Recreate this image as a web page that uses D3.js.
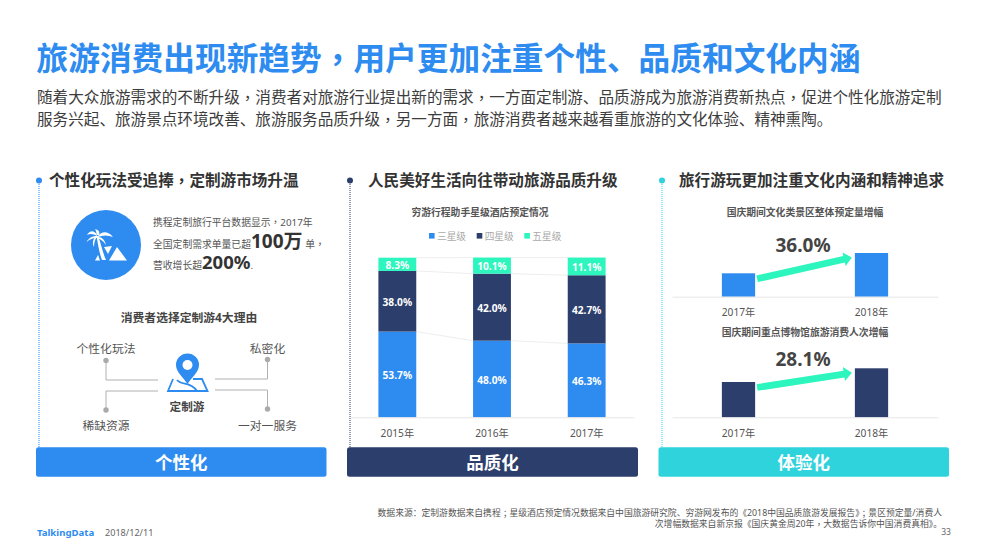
<!DOCTYPE html>
<html>
<head>
<meta charset="utf-8">
<script src="https://d3js.org/d3.v7.min.js"></script>
<style>
  html, body { margin: 0; padding: 0; background: #fff; }
  svg { display: block; }
  text { font-family: "Noto Sans", "Noto Sans CJK SC", sans-serif; }
  .mid { font-family: "Noto Sans CJK TC", sans-serif; }
</style>
</head>
<body>
<svg id="chart" width="989" height="555"></svg>
<script>
const years = ["2015年", "2016年", "2017年"];
const starLevels = ["三星级", "四星级", "五星级"];
const threeStar = [53.7, 48.0, 46.3];
const fourStar = [38.0, 42.0, 42.7];
const fiveStar = [8.3, 10.1, 11.1];

const growthYears = ["2017年", "2018年"];
// no axis in the picture, bar heights are relative and read off the image
const scenicBooking = [23.4, 43.7];
const museumVisitors = [35.3, 49.0];

const blue = "#2e8cf0", navy = "#2c3e6b", mint = "#2cf5bd", teal = "#2fd3dc";
const svg = d3.select("#chart");

function label(x, y, str, size, color, weight, anchor) {
  const t = svg.append("text")
    .attr("x", x).attr("y", y)
    .attr("font-size", size)
    .attr("fill", color)
    .attr("font-weight", weight || "normal")
    .attr("text-anchor", anchor || "start")
    .attr("dominant-baseline", "central");
  // the commas and semicolons sit centred in the reference, TC font does that
  str.split(/([，；])/).forEach((part) => {
    if (!part) return;
    t.append("tspan").attr("class", /[，；]/.test(part) ? "mid" : null).text(part);
  });
  return t;
}

// header
label(36.5, 56.5, "旅游消费出现新趋势，用户更加注重个性、品质和文化内涵", 31.7, blue, "bold");
label(37, 97, "随着大众旅游需求的不断升级，消费者对旅游行业提出新的需求，一方面定制游、品质游成为旅游消费新热点，促进个性化旅游定制", 15.6, "#3c3c3c");
label(37, 119, "服务兴起、旅游景点环境改善、旅游服务品质升级，另一方面，旅游消费者越来越看重旅游的文化体验、精神熏陶。", 15.6, "#3c3c3c");

// three columns: dotted rule, section title, bottom banner
const columns = [
  { x: 36, w: 290.5, dot: 39, color: blue, title: "个性化玩法受追捧，定制游市场升温", tx: 49, tag: "个性化" },
  { x: 347, w: 291, dot: 350, color: navy, title: "人民美好生活向往带动旅游品质升级", tx: 368, tag: "品质化" },
  { x: 658.5, w: 290.5, dot: 662, color: teal, title: "旅行游玩更加注重文化内涵和精神追求", tx: 679, tag: "体验化" }
];
columns.forEach((c) => {
  svg.append("line")
    .attr("x1", c.dot).attr("x2", c.dot).attr("y1", 182).attr("y2", 447)
    .attr("stroke", c.color).attr("stroke-width", 1).attr("stroke-dasharray", "1 1");
  svg.append("circle").attr("cx", c.dot).attr("cy", 180.5).attr("r", 3).attr("fill", c.color);
  label(c.tx, 180, c.title, 15.6, "#333", "bold");
  svg.append("rect")
    .attr("x", c.x).attr("y", 447.3).attr("width", c.w).attr("height", 29.4)
    .attr("rx", 2.5).attr("fill", c.color);
  label(c.x + c.w / 2, 461.5, c.tag, 17.5, "#fff", "bold", "middle");
});

// left column, icon and headline numbers
svg.append("circle").attr("cx", 106).attr("cy", 245).attr("r", 35).attr("fill", blue);
const palm = svg.append("g").attr("fill", "#fff");
palm.append("path").attr("d", "M98 236 C101 243 102 251 106 260 L102 260 C99 252 98 244 96.5 236 Z");
palm.append("path").attr("d", "M97 235 C94 230 90 230 87 235 C90 233 94 234 97 236 Z");
palm.append("path").attr("d", "M97 236 C92 236 89 238 86.500 242 C90 239 94 238 97.500 237.500 Z");
palm.append("path").attr("d", "M97 235 C96 232 96 230 95 229 C99 230 100 232 99 235 Z");
palm.append("path").attr("d", "M98 236 C102 231 108 231 113 237 C108 235 103 235 98 237 Z");
palm.append("path").attr("d", "M98 237 C102 237 105 240 106 245 C103 241 101 239 97 238 Z");
palm.append("path").attr("d", "M97 237 C95 239 94 243 94 247 C92 243 93 239 96 236 Z");
palm.append("path").attr("d", "M109 260.500 L117 247 L127 260.500 Z");
palm.append("path").attr("d", "M95 260.500 L98 255 L100 260.500 Z");
palm.append("path").attr("d", "M104 247 L112 246 L108 254 Z");

const para = svg.append("g").attr("fill", "#555").attr("font-size", 9.8);
const line1 = para.append("text").attr("x", 153).attr("y", 226);
line1.append("tspan").text("携程定制旅行平台数据显示");
line1.append("tspan").attr("class", "mid").text("，");
line1.append("tspan").text("2017年");
const line2 = para.append("text").attr("x", 153).attr("y", 247.5);
line2.append("tspan").text("全国定制需求单量已超");
line2.append("tspan").attr("font-size", 19).attr("font-weight", "bold").attr("fill", "#333").text("100万");
line2.append("tspan").text(" 单");
line2.append("tspan").attr("class", "mid").text("，");
const line3 = para.append("text").attr("x", 153).attr("y", 269);
line3.append("tspan").text("营收增长超");
line3.append("tspan").attr("font-size", 18.5).attr("font-weight", "bold").attr("fill", "#333").text("200%");
line3.append("tspan").text(".");

label(189, 317, "消费者选择定制游4大理由", 11.8, "#444", "bold", "middle");

// reasons diagram, each leg goes dot -> elbow -> centre
const reasons = [
  { name: "个性化玩法", x: 106, ty: 348, dy: 360.5, ey: 380, end: 158 },
  { name: "私密化", x: 267.5, ty: 348, dy: 359.5, ey: 379, end: 215 },
  { name: "稀缺资源", x: 106, ty: 425, dy: 410, ey: 391, end: 158 },
  { name: "一对一服务", x: 267.5, ty: 425, dy: 409, ey: 390, end: 215 }
];
reasons.forEach((r) => {
  label(r.x, r.ty, r.name, 11.8, "#555", "normal", "middle");
  svg.append("path")
    .attr("d", d3.line()([[r.x, r.dy], [r.x, r.ey], [r.end, r.ey]]))
    .attr("fill", "none").attr("stroke", "#b0b0b0").attr("stroke-width", 1);
  svg.append("circle").attr("cx", r.x).attr("cy", r.dy).attr("r", 2.7).attr("fill", "#aaa");
});
svg.append("path")
  .attr("d", "M187.500 384 C183 377 176 372 176 365 A11.500 11.500 0 0 1 199 365 C199 372 192 377 187.500 384 Z")
  .attr("fill", blue);
svg.append("circle").attr("cx", 187.5).attr("cy", 365).attr("r", 5).attr("fill", "#fff");
svg.append("path")
  .attr("d", "M173 379 L168 391 L207.500 391 L202 379 L193 379 M177 380 C182 386 190 381 197 391")
  .attr("fill", "none").attr("stroke", blue).attr("stroke-width", 1.8);
label(187, 405.5, "定制游", 11.6, "#444", "bold", "middle");

// middle column, stacked bars
label(480, 212, "穷游行程助手星级酒店预定情况", 9.8, "#555", "bold", "middle");
const starColors = d3.scaleOrdinal().domain(starLevels).range([blue, navy, mint]);
[429, 476.7, 524.3].forEach((lx, i) => {
  svg.append("rect").attr("x", lx).attr("y", 233).attr("width", 5.6).attr("height", 5.6)
    .attr("fill", starColors(starLevels[i]));
  label(lx + 8, 236, starLevels[i], 9.7, "#aaa");
});

const stackRows = years.map((y, i) => ({
  year: y,
  [starLevels[0]]: threeStar[i],
  [starLevels[1]]: fourStar[i],
  [starLevels[2]]: fiveStar[i]
}));
const stacked = d3.stack().keys(starLevels)(stackRows);
const xStar = d3.scaleBand().domain(years).range([350, 634]).paddingInner(0.6).paddingOuter(0.3);
const yStar = d3.scaleLinear().domain([0, 100]).range([417.3, 257.7]);

// thin lines joining the segments between bars
stacked.forEach((layer) => {
  for (let i = 0; i < years.length - 1; i++) {
    svg.append("line")
      .attr("x1", xStar(years[i]) + xStar.bandwidth())
      .attr("x2", xStar(years[i + 1]))
      .attr("y1", yStar(layer[i][1]))
      .attr("y2", yStar(layer[i + 1][1]))
      .attr("stroke", "#e8e8e8").attr("stroke-width", 0.8);
  }
});

stacked.forEach((layer) => {
  const g = svg.append("g");
  g.selectAll("rect").data(layer).enter().append("rect")
    .attr("x", (d) => xStar(d.data.year))
    .attr("y", (d) => yStar(d[1]))
    .attr("width", xStar.bandwidth())
    .attr("height", (d) => yStar(d[0]) - yStar(d[1]))
    .attr("fill", starColors(layer.key));
  g.selectAll("text").data(layer).enter().append("text")
    .attr("x", (d) => xStar(d.data.year) + xStar.bandwidth() / 2)
    .attr("y", (d) => yStar((d[0] + d[1]) / 2) + 0.8)
    .attr("text-anchor", "middle")
    .attr("dominant-baseline", "central")
    .attr("font-size", 10.2)
    .attr("font-weight", "bold")
    .attr("fill", "#fff")
    .text((d) => d3.format(".1f")(d[1] - d[0]) + "%");
});

function bottomAxis(scale, y) {
  const g = svg.append("g")
    .attr("transform", `translate(0,${y})`)
    .call(d3.axisBottom(scale).tickSize(0).tickPadding(12));
  g.select(".domain").attr("stroke", "#e6e6e6");
  g.selectAll("text")
    .attr("font-size", 10.2)
    .attr("fill", "#555")
    .style("font-family", '"Noto Sans", "Noto Sans CJK SC", sans-serif');
}
bottomAxis(xStar, 417.3);

// right column, two small bar charts with a growth arrow
function growthChart(values, color, base, topValue, title, titleY, pct, pctY) {
  label(805, titleY, title, 9.8, "#555", "bold", "middle");
  const x = d3.scaleBand().domain(growthYears).range([672, 938]).paddingInner(0.75).paddingOuter(0.375);
  const y = d3.scaleLinear().domain([0, topValue]).range([base, base - topValue]);
  svg.append("g").selectAll("rect").data(values).enter().append("rect")
    .attr("x", (d, i) => x(growthYears[i]))
    .attr("y", (d) => y(d))
    .attr("width", x.bandwidth())
    .attr("height", (d) => y(0) - y(d))
    .attr("fill", color);
  bottomAxis(x, base);

  const x0 = x(growthYears[0]) + x.bandwidth() + 2;
  const x1 = x(growthYears[1]) - 3;
  const y0 = y(values[0]) + 5.5;
  const y1 = y(values[1]) + 4.5;
  const a = Math.atan2(y1 - y0, x1 - x0);
  const shaft = 3.4;
  const head = 7;
  const back = 8;
  const bx = x1 - back * Math.cos(a);
  const by = y1 - back * Math.sin(a);
  const nx = -Math.sin(a);
  const ny = Math.cos(a);
  svg.append("path")
    .attr("d", d3.line()([
      [x0 + nx * shaft, y0 + ny * shaft],
      [bx + nx * shaft, by + ny * shaft],
      [bx + nx * head, by + ny * head],
      [x1, y1],
      [bx - nx * head, by - ny * head],
      [bx - nx * shaft, by - ny * shaft],
      [x0 - nx * shaft, y0 - ny * shaft]
    ]) + "Z")
    .attr("fill", mint);
  label(803, pctY, pct, 19, "#444", "bold", "middle");
}
growthChart(scenicBooking, blue, 296.7, 60, "国庆期间文化类景区整体预定量增幅", 212, "36.0%", 245);
growthChart(museumVisitors, navy, 417.3, 60, "国庆期间重点博物馆旅游消费人次增幅", 332, "28.1%", 358.5);

// footer
label(942, 512.5, "数据来源：定制游数据来自携程；星级酒店预定情况数据来自中国旅游研究院、穷游网发布的《2018中国品质旅游发展报告》；景区预定量/消费人", 8.8, "#555", "normal", "end");
label(942, 523.5, "次增幅数据来自新京报《国庆黄金周20年，大数据告诉你中国消费真相》。", 8.8, "#555", "normal", "end");
label(37, 532, "TalkingData", 9.6, blue, "bold");
label(105, 532, "2018/12/11", 9.1, "#666");
label(951, 532, "33", 8.6, "#666", "normal", "end");
</script>
</body>
</html>
